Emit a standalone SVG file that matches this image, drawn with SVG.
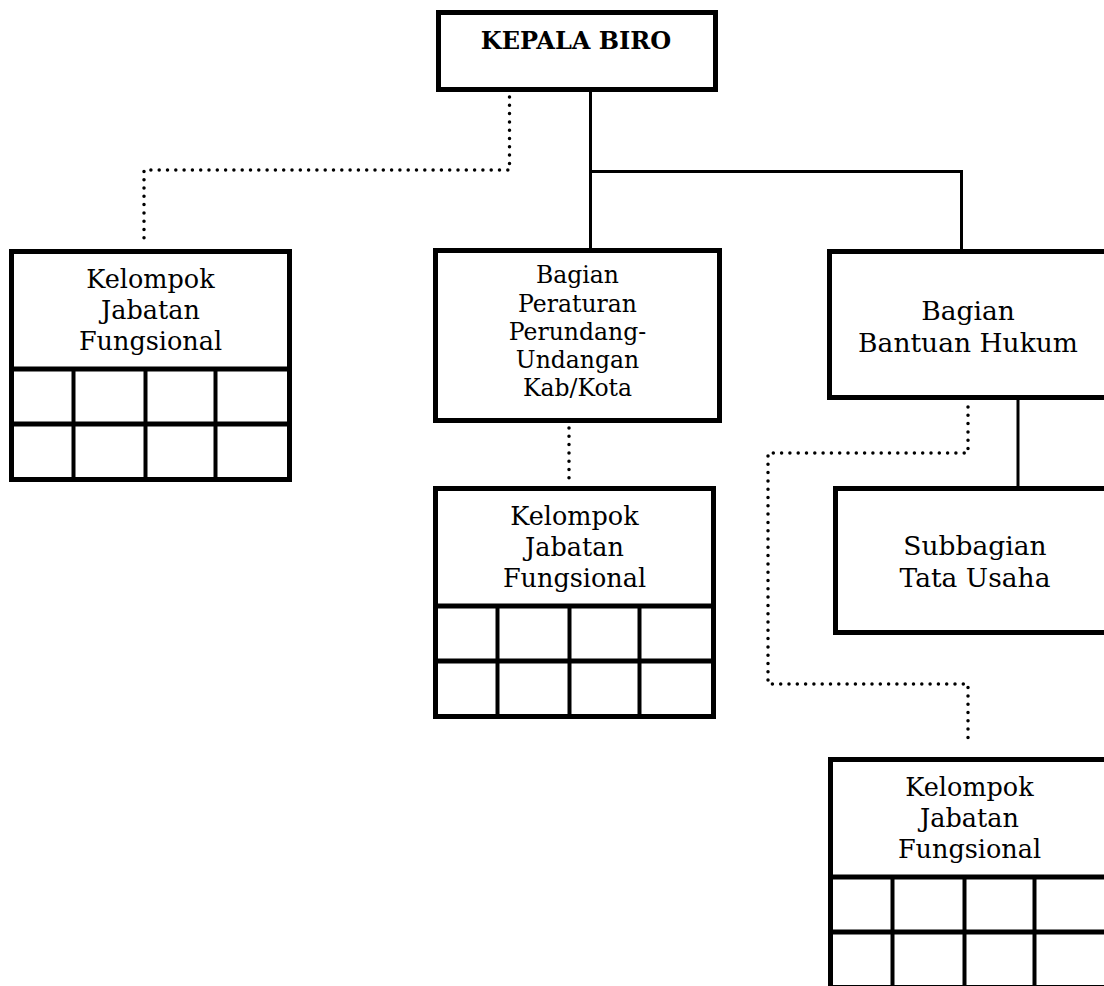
<svg xmlns="http://www.w3.org/2000/svg" width="1104" height="986" viewBox="0 0 1104 986">
  <defs>
    <style>
      .box { fill: #fff; stroke: #000; stroke-width: 5; }
      .rule { stroke: #000; stroke-width: 5; fill: none; }
      .cell { stroke: #000; stroke-width: 4; fill: none; }
      .solid { stroke: #000; stroke-width: 3; fill: none; }
      .dotted { stroke: #000; stroke-width: 3.5; fill: none; stroke-linecap: round; stroke-dasharray: 0 8.3; }
      .lbl { font-family: "DejaVu Serif", "Liberation Serif", serif; font-size: 25.5px; fill: #000; text-anchor: middle; }
      .lbl-sm { font-size: 23.5px; }
      .lbl-lg { font-size: 26.5px; }
      .head { font-family: "DejaVu Serif", "Liberation Serif", serif; font-size: 24px; font-weight: bold; fill: #000; text-anchor: middle; }
    </style>
    <!-- functional-group block: title area plus a 2 x 4 grid -->
    <g id="jf-grid">
      <rect class="box" x="2.5" y="2.5" width="278" height="228"/>
      <line class="rule" x1="0" y1="120" x2="283" y2="120"/>
      <line class="rule" x1="0" y1="175" x2="283" y2="175"/>
      <line class="cell" x1="64.5" y1="120" x2="64.5" y2="231"/>
      <line class="cell" x1="136.5" y1="120" x2="136.5" y2="231"/>
      <line class="cell" x1="206.5" y1="120" x2="206.5" y2="231"/>
    </g>
  </defs>

  <rect width="1104" height="986" fill="#fff"/>

  <!-- connectors -->
  <g id="connectors">
    <polyline class="solid" points="590.5,92 590.5,249"/>
    <polyline class="solid" points="589,171.5 961.5,171.5 961.5,250"/>
    <polyline class="solid" points="1018,399 1018,487"/>
    <polyline class="dotted" points="509.5,97 509.5,170 144,170 144,242"/>
    <polyline class="dotted" points="569,428 569,484"/>
    <polyline class="dotted" points="968,407 968,453 768,453 768,684 968,684 968,743"/>
  </g>

  <g id="kepala-biro">
    <rect class="box" x="438.5" y="12.5" width="277" height="77"/>
    <text class="head" x="576" y="49">KEPALA BIRO</text>
  </g>

  <g id="jf-kepala">
    <use href="#jf-grid" x="9" y="249"/>
    <text class="lbl" x="150.5" y="288">Kelompok</text>
    <text class="lbl" x="150.5" y="319">Jabatan</text>
    <text class="lbl" x="150.5" y="350">Fungsional</text>
  </g>

  <g id="bagian-peraturan">
    <rect class="box" x="435.5" y="250.5" width="284" height="170"/>
    <text class="lbl lbl-sm" x="577.5" y="283">Bagian</text>
    <text class="lbl lbl-sm" x="577.5" y="311.5">Peraturan</text>
    <text class="lbl lbl-sm" x="577.5" y="340">Perundang-</text>
    <text class="lbl lbl-sm" x="577.5" y="368">Undangan</text>
    <text class="lbl lbl-sm" x="577.5" y="396">Kab/Kota</text>
  </g>

  <g id="jf-peraturan">
    <use href="#jf-grid" x="433" y="486"/>
    <text class="lbl" x="574.5" y="525">Kelompok</text>
    <text class="lbl" x="574.5" y="556">Jabatan</text>
    <text class="lbl" x="574.5" y="587">Fungsional</text>
  </g>

  <g id="bagian-bantuan-hukum">
    <rect class="box" x="829.5" y="251.5" width="277" height="146"/>
    <text class="lbl lbl-lg" x="968" y="320">Bagian</text>
    <text class="lbl lbl-lg" x="968" y="352">Bantuan Hukum</text>
  </g>

  <g id="subbagian-tata-usaha">
    <rect class="box" x="835.5" y="488.5" width="279" height="144"/>
    <text class="lbl lbl-lg" x="975" y="555">Subbagian</text>
    <text class="lbl lbl-lg" x="975" y="587">Tata Usaha</text>
  </g>

  <g id="jf-bantuan-hukum">
    <use href="#jf-grid" x="828" y="757"/>
    <text class="lbl" x="969.5" y="796">Kelompok</text>
    <text class="lbl" x="969.5" y="827">Jabatan</text>
    <text class="lbl" x="969.5" y="858">Fungsional</text>
  </g>
</svg>
